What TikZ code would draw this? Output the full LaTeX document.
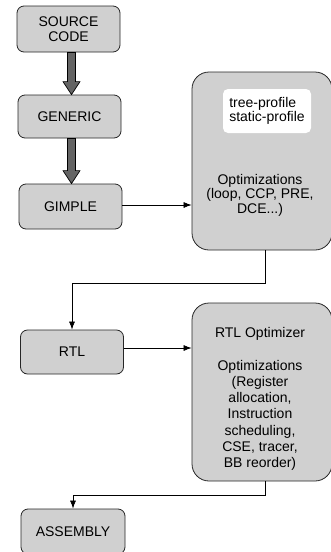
\documentclass[tikz,border=0pt]{standalone}
\usepackage{fontspec}
\setmainfont{Liberation Sans}
\usetikzlibrary{calc,arrows.meta}
\definecolor{boxgray}{RGB}{208,208,208}
\definecolor{arrowgray}{RGB}{100,100,100}
\tikzset{
  stage/.style={draw=black!85, fill=boxgray, line width=0.8pt, rounded corners=7pt,
    minimum width=103pt, minimum height=44pt, inner sep=0pt, align=center,
    font=\fontsize{14}{15}\selectfont},
  bigbox/.style={draw=black!85, fill=boxgray, line width=0.8pt, rounded corners=17pt,
    minimum width=140pt, minimum height=178pt, inner sep=0pt},
  wbox/.style={fill=white, rounded corners=5pt, minimum width=88pt, minimum height=44pt,
    inner sep=0pt, align=left, font=\fontsize{14}{14.5}\selectfont},
  txt/.style={align=center, inner sep=0pt},
  conn/.style={line width=0.7pt, -{Latex[length=8pt,width=6pt]}},
  fatarrow/.style={draw=black, fill=arrowgray, line width=0.7pt, line join=miter}
}
\begin{document}
\begin{tikzpicture}[x=1pt,y=-1pt]
\useasboundingbox (0,0) rectangle (331,552);
\clip (0,0) rectangle (331,552);
\node[stage, minimum height=46pt] (src) at (68.5,29) {SOURCE\\CODE};
\node[stage, minimum height=43pt] (gen) at (69.5,116.5) {GENERIC};
\node[stage, minimum height=45pt] (gim) at (70.5,206.5) {GIMPLE};
\node[stage] (rtl) at (72,352) {RTL};
\node[stage, minimum height=45pt, minimum width=104pt] (asm) at (73,531.5) {ASSEMBLY};
\node[bigbox] (opt1) at (262,161) {};
\node[bigbox] (opt2) at (262,392) {};
\node[wbox] (prof) at (267,111) {tree-profile\\static-profile};
\node[txt, font=\fontsize{14}{14.5}\selectfont] (opt1t) at (260,195) {Optimizations\\(loop, CCP, PRE,\\DCE...)};
\node[txt, font=\fontsize{14}{16.3}\selectfont] (opt2t) at (260,399) {RTL Optimizer\\[16.3pt]Optimizations\\(Register\\allocation,\\Instruction\\scheduling,\\CSE, tracer,\\BB reorder)};
% fat arrows
\path[fatarrow] ($(src.south)+(-1,0)$) -- ($(src.south)+(7,0)$) -- ($(gen.north)+(6,-13)$) -- ($(gen.north)+(10.5,-13)$) -- ($(gen.north)+(2,0)$) -- ($(gen.north)+(-6.5,-13)$) -- ($(gen.north)+(-2,-13)$) -- cycle;
\path[fatarrow] ($(gen.south)+(-2,0)$) -- ($(gen.south)+(6,0)$) -- ($(gim.north)+(5,-13)$) -- ($(gim.north)+(9.5,-13)$) -- ($(gim.north)+(1,0)$) -- ($(gim.north)+(-7.5,-13)$) -- ($(gim.north)+(-3,-13)$) -- cycle;
% connectors
\draw[conn] ([yshift=1.5pt]gim.east) -- ([yshift=1.5pt]gim.east -| opt1.west);
\draw[conn] ([xshift=3pt]opt1.south) -- ++(0,33) -| (rtl.north);
\draw[conn] ([yshift=4pt]rtl.east) -- ([yshift=4pt]rtl.east -| opt2.west);
\draw[conn] ([xshift=3pt]opt2.south) -- ++(0,14) -| (asm.north);
\end{tikzpicture}
\end{document}
